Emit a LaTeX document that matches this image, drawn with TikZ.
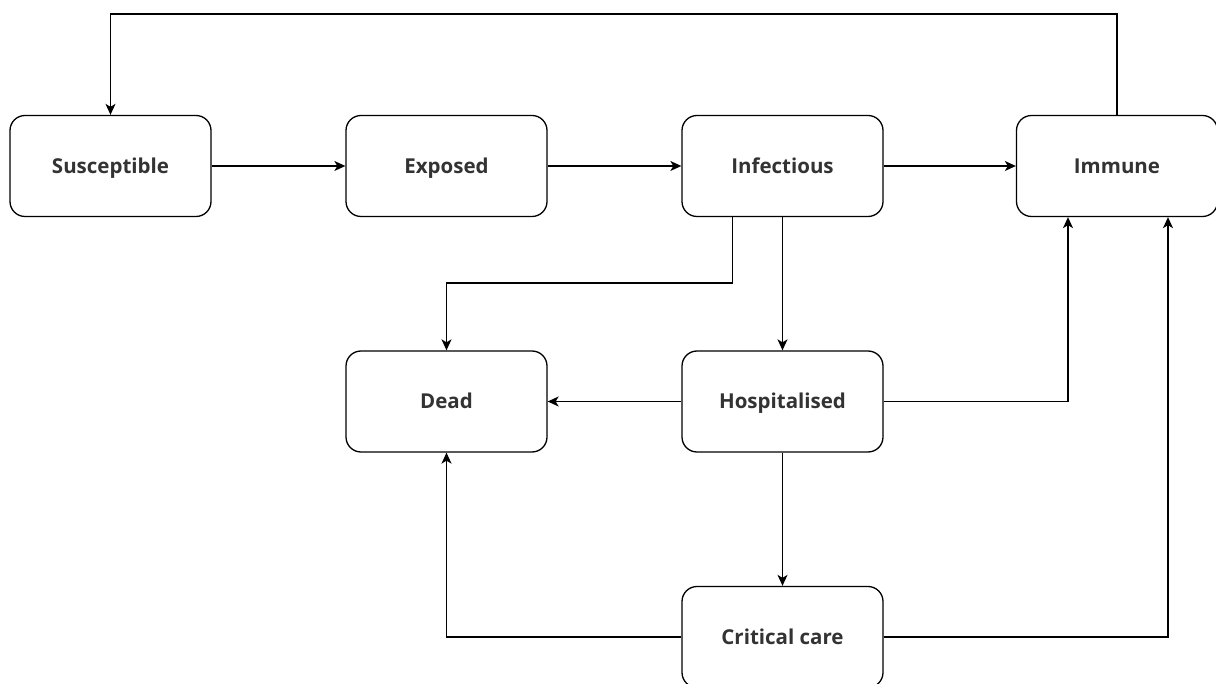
\documentclass[tikz,border=0pt]{standalone}
\usepackage{fontspec}
\setmainfont{Open Sans}
\usetikzlibrary{arrows.meta}
\definecolor{txt}{HTML}{333333}
\tikzset{
  box/.style={draw=black, line width=1.3pt, rounded corners=15pt, minimum width=201pt, minimum height=101pt, inner sep=0pt, text height=16pt, text depth=1pt, text=txt, font=\fontsize{20.5}{24}\selectfont\bfseries, fill=white},
  arr/.style={draw=black, line width=1.4pt, -{Stealth[length=11pt,width=10pt,inset=3pt]}}
}
\begin{document}
\begin{tikzpicture}[x=1pt,y=-1pt]
\useasboundingbox (0,0) rectangle (1216,684);
\node[box] (S) at (110.5,166) {Susceptible};
\node[box] (E) at (446.5,166) {Exposed};
\node[box] (I) at (782.5,166) {Infectious};
\node[box] (Im) at (1117,166) {Immune};
\node[box] (D) at (446.5,401.5) {Dead};
\node[box] (H) at (782.5,401.5) {Hospitalised};
\node[box] (C) at (782.5,637) {Critical care};
\coordinate (top) at (0,14);
\coordinate (midy) at (0,283);
\draw[arr] (S) -- (E);
\draw[arr] (E) -- (I);
\draw[arr] (I) -- (Im);
\draw[arr] (Im.north) -- (Im.north |- top) -| (S.north);
\draw[arr] ([xshift=-50pt]I.south) -- ([xshift=-50pt]I.south |- midy) -| (D.north);
\draw[arr] (I) -- (H);
\draw[arr] (H) -- (D);
\draw[arr] (H.east) -| ([xshift=-49pt]Im.south);
\draw[arr] (H) -- (C);
\draw[arr] (C.west) -| (D.south);
\draw[arr] (C.east) -| ([xshift=51pt]Im.south);
\end{tikzpicture}
\end{document}
